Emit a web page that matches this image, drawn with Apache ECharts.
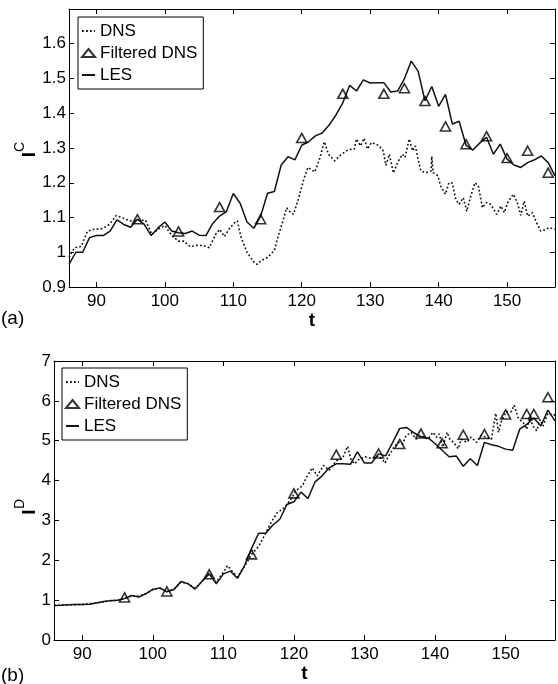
<!DOCTYPE html>
<html><head><meta charset="utf-8">
<script src="https://cdn.jsdelivr.net/npm/echarts@6/dist/echarts.min.js"></script>
<style>html,body{margin:0;padding:0;background:#fff}#c{width:558px;height:684px}</style>
</head><body><div id="c"></div>
<script>
// ---------- data ----------
const seriesNames = ['DNS', 'Filtered DNS', 'LES'];
const xTicks = [90, 100, 110, 120, 130, 140, 150];
const yTicksA = [0.9, 1, 1.1, 1.2, 1.3, 1.4, 1.5, 1.6];
const yTicksB = [0, 1, 2, 3, 4, 5, 6, 7];

// panel (a)  I^C
const lesT = [86,87,88,89,90,91,92,93,94,95,96,97,98,99,100,101,102,103,104,105,106,107,108,109,110,111,112,113,114,115,116,117,118,119,120,121,122,123,124,125,126,127,128,129,130,131,132,133,134,135,136,137,138,139,140,141,142,143,144,145,146,147,148,149,150,151,152,153,154,155,156,157];
const lesA = [0.965,1.0,1.0,1.042,1.048,1.048,1.061,1.093,1.080,1.072,
  1.095,1.080,1.048,1.07,1.087,1.061,1.056,1.054,1.061,1.049,
  1.048,1.083,1.104,1.117,1.169,1.141,1.087,1.069,1.104,1.170,
  1.175,1.251,1.275,1.266,1.308,1.318,1.335,1.343,1.366,1.395,
  1.43,1.48,1.464,1.496,1.487,1.488,1.488,1.461,1.464,1.499,
  1.55,1.521,1.436,1.477,1.42,1.454,1.369,1.377,1.308,1.294,
  1.314,1.331,1.282,1.311,1.268,1.251,1.244,1.258,1.266,1.277,
  1.258,1.22];
const dnsTA = [86,86.8,87.8,88.7,89.7,90.9,91.9,92.9,93.8,94.9,95.9,97.2,98.1,99,100,101,102,102.8,103.7,104.8,105.7,106.5,107.4,108,108.7,109.5,110.3,110.6,111.1,112,113,113.5,114,115,116,116.5,117.1,117.8,118.2,118.8,119.5,120.3,120.9,121.9,122.6,123.3,123.9,124.8,125.8,126.8,127.7,128,128.6,129.1,129.6,130.2,131.2,131.9,132.3,132.8,133.4,134,134.7,135.1,135.7,136.2,136.6,136.9,137.4,138.2,138.9,139,139.2,139.9,140.3,141,141.5,142,142.5,143,143.6,144.1,144.7,145.3,145.8,146.4,147,147.6,148.5,149.1,149.6,150.1,150.9,151.5,152,152.5,153,153.7,154.2,154.9,155.7,156.1,157];
const dnsA = [0.985,1.013,1.017,1.061,1.066,1.068,1.08,1.106,1.099,1.09,1.092,1.092,1.051,1.066,1.077,1.048,1.032,1.032,1.016,1.02,1.019,1.013,1.051,1.066,1.045,1.07,1.087,1.09,1.045,1.0,0.972,0.965,0.975,0.985,1.005,1.042,1.08,1.128,1.118,1.109,1.152,1.21,1.244,1.231,1.268,1.318,1.282,1.263,1.282,1.295,1.297,1.326,1.306,1.328,1.297,1.316,1.308,1.292,1.25,1.282,1.228,1.258,1.282,1.273,1.326,1.292,1.306,1.277,1.234,1.229,1.234,1.276,1.229,1.22,1.19,1.167,1.2,1.199,1.152,1.138,1.157,1.118,1.162,1.2,1.191,1.128,1.143,1.138,1.109,1.133,1.114,1.143,1.167,1.143,1.106,1.147,1.104,1.114,1.09,1.061,1.066,1.071,1.066];
const filTA = [96,102,108,114,120,126,132,135,138,141,144,147,150,153,156];
const filA = [1.095,1.06,1.13,1.095,1.329,1.456,1.456,1.472,1.435,1.362,1.311,1.334,1.271,1.292,1.229];

// panel (b)  I^D
const lesB = [0.87,0.875,0.885,0.89,0.895,0.9,0.93,0.97,0.99,1.0,
  1.04,1.12,1.08,1.16,1.27,1.31,1.21,1.27,1.47,1.41,
  1.28,1.48,1.66,1.41,1.66,1.73,1.55,1.87,2.3,2.68,
  2.68,2.88,3.03,3.4,3.47,3.71,3.55,3.97,4.12,4.32,
  4.42,4.42,4.41,4.72,4.44,4.44,4.67,4.62,4.96,5.31,
  5.33,5.2,5.1,5.07,4.93,4.76,4.6,4.62,4.36,4.55,
  4.38,4.96,4.9,4.86,4.79,4.76,5.29,5.41,5.57,5.37,
  5.77,5.5];
const dnsTB = [86,88,90,92,94,95,96,97,98,99,100,101,102,103,104,105,106,107,108,109,110,110.6,111,112,113,114,115,115.7,116.9,117.6,118.6,119.5,120.3,121.2,121.9,122.6,123.3,124.2,125,126,126.9,127.6,128.1,128.6,129.1,130.1,130.9,132,132.6,132.9,133.5,134.2,134.8,135.4,135.9,136.6,137.3,138,139,139.7,140.2,140.6,141.1,141.7,142.1,142.6,143.3,143.7,144.5,145.1,145.9,146.5,147.2,148,148.6,149,149.4,150.1,150.8,151.2,151.8,152.5,153,153.4,153.9,154.4,154.9,155.3,156,156.5,157];
const dnsB = [0.87,0.885,0.895,0.93,0.99,1.0,1.05,1.11,1.1,1.17,1.27,1.3,1.22,1.28,1.46,1.42,1.3,1.47,1.68,1.45,1.7,1.87,1.78,1.58,1.85,2.15,2.35,2.58,2.99,3.19,3.31,3.51,3.75,3.87,4.12,4.32,4.12,4.38,4.26,4.5,4.56,4.86,4.52,4.42,4.52,4.6,4.56,4.62,4.52,4.44,4.64,4.84,4.96,4.92,5.13,5.21,5.04,5.13,5.04,5.21,5.09,5.17,4.84,5.21,5.04,4.96,4.8,5.04,4.96,5.09,4.96,5.13,5.09,5.04,5.69,5.21,5.49,5.73,5.73,5.89,5.57,5.45,5.29,5.57,5.37,5.25,5.53,5.37,5.69,5.65,5.65];
const filTB = [96,102,108,114,120,126,132,135,138,141,144,147,150,153,154,156];
const filB = [1.07,1.22,1.65,2.15,3.68,4.65,4.68,4.92,5.18,4.94,5.15,5.17,5.66,5.67,5.67,6.09];

// ---------- helpers ----------
const FONT = '"Liberation Sans", Arial, sans-serif';
const pairs = (t, v) => t.map((x, i) => [x, v[i]]);
const BLACK = '#000';
const INK = '#111';

function xAx(grid, pos, withLabel) {
  return {
    gridIndex: grid, type: 'value', min: 86, max: 157, position: pos,
    axisLine: { show: true, onZero: false, lineStyle: { color: BLACK, width: 1 } },
    axisTick: { show: true, inside: true, length: 5, customValues: xTicks, lineStyle: { color: BLACK, width: 1 } },
    axisLabel: { show: withLabel, customValues: xTicks, margin: 6, color: BLACK, fontSize: 17, fontFamily: FONT },
    splitLine: { show: false },
    name: withLabel ? 't' : '', nameLocation: 'middle', nameGap: 19,
    nameTextStyle: { fontWeight: 'bold', fontSize: 19, color: BLACK, fontFamily: FONT }
  };
}
function yAx(grid, pos, withLabel, min, max, ticks) {
  return {
    gridIndex: grid, type: 'value', min: min, max: max, position: pos,
    axisLine: { show: true, onZero: false, lineStyle: { color: BLACK, width: 1 } },
    axisTick: { show: true, inside: true, length: 5, customValues: ticks, lineStyle: { color: BLACK, width: 1 } },
    axisLabel: { show: withLabel, customValues: ticks, margin: 3, color: BLACK, fontSize: 17, fontFamily: FONT },
    splitLine: { show: false }
  };
}
function lineS(name, xi, data, dotted) {
  return {
    name: name, type: 'line', xAxisIndex: xi, yAxisIndex: xi, data: data,
    symbol: 'none', showSymbol: false, animation: false, silent: true,
    lineStyle: { color: INK, width: dotted ? 1.6 : 1.5, type: dotted ? [1.8, 2.2] : 'solid' },
    itemStyle: { color: INK }
  };
}
function triS(xi, data) {
  return {
    name: 'Filtered DNS', type: 'scatter', xAxisIndex: xi, yAxisIndex: xi, data: data,
    symbol: 'triangle', symbolSize: [10, 9], animation: false, silent: true, z: 5,
    itemStyle: { color: 'rgba(255,255,255,0)', borderColor: BLACK, borderWidth: 1.6 }
  };
}
const hiddenDot = { color: 'rgba(0,0,0,0)', borderColor: 'rgba(0,0,0,0)', borderWidth: 0 };
function legendAt(left, top) {
  return {
    left: left, top: top, orient: 'vertical', selectedMode: false,
    data: [
      { name: seriesNames[0], itemStyle: hiddenDot },
      { name: seriesNames[1] },
      { name: seriesNames[2], itemStyle: hiddenDot }
    ],
    backgroundColor: '#fff', borderColor: BLACK, borderWidth: 1, borderRadius: 0,
    padding: [5, 6, 5, 3], itemWidth: 13, itemHeight: 8, itemGap: 4,
    textStyle: { fontSize: 17, fontFamily: FONT, color: BLACK, lineHeight: 18 }
  };
}
function txt(x, y, s, font, rot) {
  return { type: 'text', x: x, y: y, rotation: rot || 0, silent: true,
    style: { text: s, font: font, fill: BLACK, textAlign: 'center', textVerticalAlign: 'middle' } };
}

const chart = echarts.init(document.getElementById('c'), null, { renderer: 'canvas' });
chart.setOption({
  backgroundColor: '#fff',
  animation: false,
  grid: [
    { left: 69, top: 9, right: 3, height: 278 },
    { left: 54, top: 361, right: 3, height: 289 }
  ],
  xAxis: [xAx(0, 'bottom', true), xAx(0, 'top', false), xAx(1, 'bottom', true), xAx(1, 'top', false)],
  yAxis: [
    yAx(0, 'left', true, 0.9, 1.7, yTicksA), yAx(0, 'right', false, 0.9, 1.7, yTicksA),
    yAx(1, 'left', true, 0, 7, yTicksB), yAx(1, 'right', false, 0, 7, yTicksB)
  ],
  legend: [legendAt(78, 17), legendAt(62, 368)],
  series: [
    lineS('DNS', 0, pairs(dnsTA, dnsA), true),
    triS(0, pairs(filTA, filA)),
    lineS('LES', 0, pairs(lesT, lesA), false),
    lineS('DNS', 2, pairs(dnsTB, dnsB), true),
    triS(2, pairs(filTB, filB)),
    lineS('LES', 2, pairs(lesT, lesB), false)
  ],
  graphic: [
    txt(29.5, 154.5, 'I', 'bold 19px "Liberation Sans", Arial', Math.PI / 2),
    txt(20, 147, 'C', '14px "Liberation Sans", Arial', Math.PI / 2),
    txt(29.5, 512, 'I', 'bold 19px "Liberation Sans", Arial', Math.PI / 2),
    txt(20, 504, 'D', '14px "Liberation Sans", Arial', Math.PI / 2),
    { type: 'text', left: 1, top: 309, silent: true, style: { text: '(a)', font: '19px "Liberation Sans", Arial', fill: BLACK } },
    { type: 'text', left: 1, top: 666, silent: true, style: { text: '(b)', font: '19px "Liberation Sans", Arial', fill: BLACK } }
  ]
});
</script></body></html>
